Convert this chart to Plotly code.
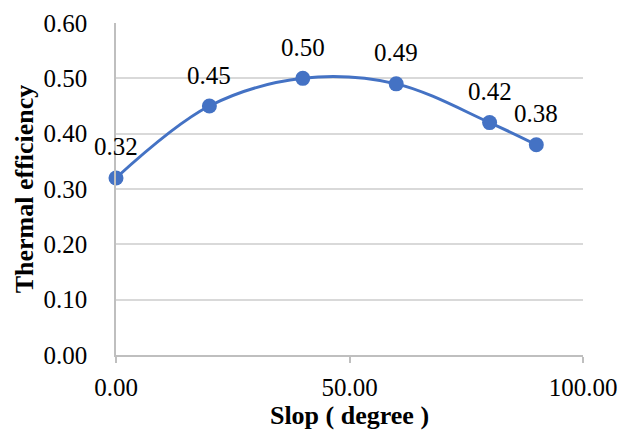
import plotly.graph_objects as go

slope = [0, 20, 40, 60, 80, 90]
efficiency = [0.32, 0.45, 0.50, 0.49, 0.42, 0.38]
labels = [f"{v:.2f}" for v in efficiency]

FONT = "Liberation Serif"

fig = go.Figure()
fig.add_trace(go.Scatter(
    x=slope, y=efficiency, mode="lines+markers",
    line=dict(color="#4472C4", width=3, shape="spline", smoothing=1.0),
    marker=dict(color="#4472C4", size=15),
    cliponaxis=False, showlegend=False, hoverinfo="skip",
))
for xv, yv, t in zip(slope, efficiency, labels):
    fig.add_annotation(x=xv, y=yv, text=t, showarrow=False, yshift=31,
                       font=dict(family=FONT, size=25, color="black"))

fig.update_layout(
    width=634, height=432,
    margin=dict(l=116, r=51, t=23, b=77, autoexpand=False),
    paper_bgcolor="white", plot_bgcolor="white",
    font=dict(family=FONT, size=25, color="black"),
)
fig.update_xaxes(
    range=[0, 100], tickvals=[0, 50, 100], tickformat=".2f",
    showgrid=False, showline=True, linecolor="#BFBFBF", linewidth=1.5,
    ticks="outside", ticklen=6, tickcolor="#BFBFBF", tickwidth=1.5,
    ticklabelstandoff=3,
    zeroline=False,
    title=dict(text="<b>Slop ( degree )</b>", font=dict(size=26), standoff=6),
)
fig.update_yaxes(
    range=[0, 0.6], dtick=0.1, tickformat=".2f",
    showgrid=True, gridcolor="#D9D9D9", gridwidth=1.5,
    showline=True, linecolor="#BFBFBF", linewidth=1.5,
    zeroline=False, ticks="outside", ticklen=22, tickcolor="rgba(0,0,0,0)",
    title=dict(text="<b>Thermal efficiency</b>", font=dict(size=26), standoff=2),
)

fig.write_html("out.html", config={"displayModeBar": False},
               post_script="document.body.style.margin='0';document.body.style.padding='0';")
